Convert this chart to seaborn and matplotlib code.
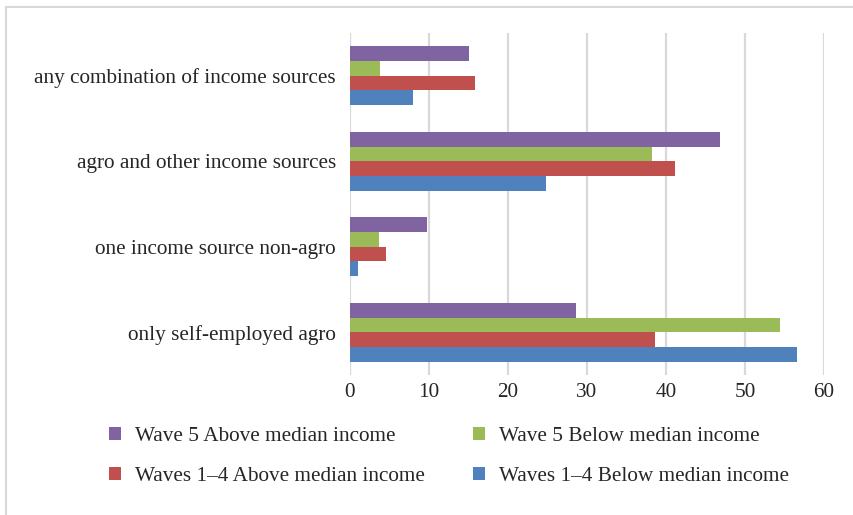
import matplotlib
matplotlib.use("Agg")
import matplotlib.pyplot as plt
from matplotlib.patches import Patch, Rectangle
import pandas as pd
import seaborn as sns

categories = [
    "any combination of income sources",
    "agro and other income sources",
    "one income source non-agro",
    "only self-employed agro",
]
series = [
    "Wave 5 Above median income",
    "Wave 5 Below median income",
    "Waves 1\u20134 Above median income",
    "Waves 1\u20134 Below median income",
]
wave5_above = [15.1, 46.8, 9.8, 28.6]
wave5_below = [3.8, 38.2, 3.7, 54.4]
waves14_above = [15.8, 41.1, 4.5, 38.6]
waves14_below = [8.0, 24.8, 1.0, 56.6]
x_ticks = [0, 10, 20, 30, 40, 50, 60]

colors = ["#8064A2", "#9BBB59", "#C0504D", "#4F81BD"]

rows = []
for name, vals in zip(series, [wave5_above, wave5_below, waves14_above, waves14_below]):
    for cat, v in zip(categories, vals):
        rows.append({"category": cat, "series": name, "value": v})
df = pd.DataFrame(rows)

sns.set_theme(style="white")
plt.rcParams["font.family"] = ["Liberation Serif", "DejaVu Serif"]
text_color = "#262626"
fs = 15.3

fig = plt.figure(figsize=(8.54, 5.15), dpi=100)
ax = fig.add_axes([350 / 854, 1 - 375 / 515, 474 / 854, 342 / 515])

sns.barplot(
    data=df, x="value", y="category", hue="series",
    order=categories, hue_order=series, palette=colors,
    orient="h", width=0.69, legend=False, saturation=1,
    linewidth=0, edgecolor="none", ax=ax,
)

ax.set_xlim(0, 60)
ax.set_xticks(x_ticks)
ax.set_xticklabels([str(t) for t in x_ticks])
ax.set_xlabel("")
ax.set_ylabel("")
ax.xaxis.grid(True, color="#D9D9D9", linewidth=1.6)
ax.yaxis.grid(False)
ax.set_axisbelow(True)
for sp in ax.spines.values():
    sp.set_visible(False)
ax.tick_params(axis="both", length=0, colors=text_color, labelsize=fs)
ax.tick_params(axis="y", pad=10)
ax.tick_params(axis="x", pad=6)

# chart frame
fig.patches.append(Rectangle((6.5 / 854, -0.05), 1.2, 1 - 7 / 515 + 0.05,
                             transform=fig.transFigure, fill=False,
                             edgecolor="#D9D9D9", linewidth=1.5))

handles = [Patch(facecolor=c, edgecolor="none") for c in colors]
order = [0, 2, 1, 3]
fig.legend(
    [handles[i] for i in order], [series[i] for i in order],
    ncol=2, loc="upper left", bbox_to_anchor=(90 / 854, 1 - 408 / 515),
    frameon=False, fontsize=fs, labelcolor=text_color,
    handlelength=0.55, handleheight=0.55, handletextpad=0.65,
    columnspacing=2.3, labelspacing=0.98,
)

fig.savefig("out.png", dpi=100)
